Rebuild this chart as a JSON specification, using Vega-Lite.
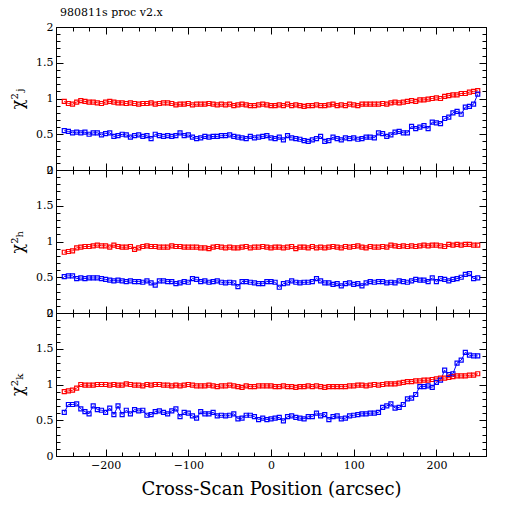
{
  "$schema": "https://vega.github.io/schema/vega-lite/v6.json",
  "background": "white",
  "padding": {"left": 9, "top": 6, "right": 5, "bottom": 5},
  "spacing": 0,
  "bounds": "flush",
  "datasets": {
    "chi": [
      {"x":-250,"J1":0.96,"J2":0.55,"H1":0.85,"H2":0.51,"K1":0.90,"K2":0.61},
      {"x":-245,"J1":0.93,"J2":0.54,"H1":0.86,"H2":0.52,"K1":0.91,"K2":0.72},
      {"x":-240,"J1":0.92,"J2":0.52,"H1":0.87,"H2":0.52,"K1":0.92,"K2":0.72},
      {"x":-235,"J1":0.95,"J2":0.53,"H1":0.91,"H2":0.48,"K1":0.95,"K2":0.73},
      {"x":-230,"J1":0.97,"J2":0.52,"H1":0.92,"H2":0.49,"K1":1.00,"K2":0.66},
      {"x":-225,"J1":0.96,"J2":0.53,"H1":0.93,"H2":0.48,"K1":0.99,"K2":0.62},
      {"x":-220,"J1":0.95,"J2":0.50,"H1":0.93,"H2":0.49,"K1":0.99,"K2":0.59},
      {"x":-215,"J1":0.95,"J2":0.52,"H1":0.94,"H2":0.49,"K1":0.99,"K2":0.70},
      {"x":-210,"J1":0.94,"J2":0.52,"H1":0.95,"H2":0.49,"K1":1.00,"K2":0.65},
      {"x":-205,"J1":0.93,"J2":0.49,"H1":0.94,"H2":0.48,"K1":1.00,"K2":0.64},
      {"x":-200,"J1":0.95,"J2":0.51,"H1":0.94,"H2":0.47,"K1":1.00,"K2":0.61},
      {"x":-195,"J1":0.96,"J2":0.52,"H1":0.92,"H2":0.46,"K1":0.99,"K2":0.67},
      {"x":-190,"J1":0.95,"J2":0.47,"H1":0.95,"H2":0.45,"K1":1.00,"K2":0.58},
      {"x":-185,"J1":0.94,"J2":0.48,"H1":0.93,"H2":0.46,"K1":0.99,"K2":0.70},
      {"x":-180,"J1":0.94,"J2":0.50,"H1":0.92,"H2":0.45,"K1":0.99,"K2":0.58},
      {"x":-175,"J1":0.93,"J2":0.49,"H1":0.92,"H2":0.44,"K1":1.01,"K2":0.64},
      {"x":-170,"J1":0.94,"J2":0.46,"H1":0.93,"H2":0.45,"K1":1.00,"K2":0.59},
      {"x":-165,"J1":0.93,"J2":0.48,"H1":0.89,"H2":0.44,"K1":0.99,"K2":0.65},
      {"x":-160,"J1":0.92,"J2":0.49,"H1":0.91,"H2":0.44,"K1":0.99,"K2":0.63},
      {"x":-155,"J1":0.93,"J2":0.47,"H1":0.93,"H2":0.43,"K1":0.98,"K2":0.64},
      {"x":-150,"J1":0.93,"J2":0.48,"H1":0.94,"H2":0.45,"K1":1.00,"K2":0.57},
      {"x":-145,"J1":0.94,"J2":0.44,"H1":0.93,"H2":0.42,"K1":0.99,"K2":0.58},
      {"x":-140,"J1":0.92,"J2":0.50,"H1":0.93,"H2":0.39,"K1":1.00,"K2":0.62},
      {"x":-135,"J1":0.93,"J2":0.48,"H1":0.92,"H2":0.45,"K1":1.00,"K2":0.63},
      {"x":-130,"J1":0.94,"J2":0.47,"H1":0.92,"H2":0.45,"K1":0.99,"K2":0.61},
      {"x":-125,"J1":0.94,"J2":0.48,"H1":0.92,"H2":0.44,"K1":0.99,"K2":0.59},
      {"x":-120,"J1":0.93,"J2":0.47,"H1":0.94,"H2":0.44,"K1":0.98,"K2":0.63},
      {"x":-115,"J1":0.91,"J2":0.48,"H1":0.93,"H2":0.41,"K1":0.99,"K2":0.66},
      {"x":-110,"J1":0.92,"J2":0.52,"H1":0.93,"H2":0.42,"K1":0.98,"K2":0.55},
      {"x":-105,"J1":0.92,"J2":0.48,"H1":0.92,"H2":0.44,"K1":0.99,"K2":0.61},
      {"x":-100,"J1":0.93,"J2":0.49,"H1":0.92,"H2":0.43,"K1":1.00,"K2":0.60},
      {"x":-95,"J1":0.91,"J2":0.46,"H1":0.92,"H2":0.48,"K1":0.99,"K2":0.56},
      {"x":-90,"J1":0.92,"J2":0.44,"H1":0.92,"H2":0.47,"K1":0.98,"K2":0.53},
      {"x":-85,"J1":0.92,"J2":0.45,"H1":0.91,"H2":0.44,"K1":0.98,"K2":0.62},
      {"x":-80,"J1":0.92,"J2":0.47,"H1":0.91,"H2":0.45,"K1":0.98,"K2":0.59},
      {"x":-75,"J1":0.93,"J2":0.46,"H1":0.90,"H2":0.43,"K1":0.99,"K2":0.59},
      {"x":-70,"J1":0.92,"J2":0.47,"H1":0.92,"H2":0.44,"K1":0.98,"K2":0.61},
      {"x":-65,"J1":0.91,"J2":0.47,"H1":0.93,"H2":0.45,"K1":0.97,"K2":0.56},
      {"x":-60,"J1":0.92,"J2":0.48,"H1":0.92,"H2":0.43,"K1":0.98,"K2":0.57},
      {"x":-55,"J1":0.91,"J2":0.48,"H1":0.91,"H2":0.42,"K1":0.98,"K2":0.56},
      {"x":-50,"J1":0.92,"J2":0.49,"H1":0.92,"H2":0.43,"K1":0.99,"K2":0.57},
      {"x":-45,"J1":0.90,"J2":0.47,"H1":0.91,"H2":0.42,"K1":0.98,"K2":0.59},
      {"x":-40,"J1":0.91,"J2":0.46,"H1":0.91,"H2":0.37,"K1":0.97,"K2":0.52},
      {"x":-35,"J1":0.92,"J2":0.45,"H1":0.92,"H2":0.44,"K1":0.96,"K2":0.53},
      {"x":-30,"J1":0.91,"J2":0.44,"H1":0.93,"H2":0.44,"K1":0.98,"K2":0.57},
      {"x":-25,"J1":0.90,"J2":0.47,"H1":0.91,"H2":0.43,"K1":0.97,"K2":0.57},
      {"x":-20,"J1":0.90,"J2":0.45,"H1":0.92,"H2":0.42,"K1":0.97,"K2":0.55},
      {"x":-15,"J1":0.91,"J2":0.46,"H1":0.92,"H2":0.41,"K1":0.98,"K2":0.51},
      {"x":-10,"J1":0.92,"J2":0.47,"H1":0.93,"H2":0.41,"K1":0.98,"K2":0.53},
      {"x":-5,"J1":0.91,"J2":0.48,"H1":0.92,"H2":0.44,"K1":0.98,"K2":0.51},
      {"x":0,"J1":0.90,"J2":0.45,"H1":0.91,"H2":0.44,"K1":0.98,"K2":0.52},
      {"x":5,"J1":0.90,"J2":0.44,"H1":0.92,"H2":0.43,"K1":0.97,"K2":0.53},
      {"x":10,"J1":0.91,"J2":0.46,"H1":0.92,"H2":0.36,"K1":0.97,"K2":0.54},
      {"x":15,"J1":0.90,"J2":0.42,"H1":0.91,"H2":0.41,"K1":0.98,"K2":0.49},
      {"x":20,"J1":0.92,"J2":0.48,"H1":0.92,"H2":0.42,"K1":0.97,"K2":0.55},
      {"x":25,"J1":0.90,"J2":0.45,"H1":0.93,"H2":0.45,"K1":0.97,"K2":0.56},
      {"x":30,"J1":0.91,"J2":0.44,"H1":0.90,"H2":0.43,"K1":0.96,"K2":0.54},
      {"x":35,"J1":0.90,"J2":0.43,"H1":0.92,"H2":0.42,"K1":0.97,"K2":0.53},
      {"x":40,"J1":0.89,"J2":0.41,"H1":0.92,"H2":0.43,"K1":0.97,"K2":0.52},
      {"x":45,"J1":0.90,"J2":0.40,"H1":0.91,"H2":0.43,"K1":0.98,"K2":0.55},
      {"x":50,"J1":0.90,"J2":0.42,"H1":0.93,"H2":0.44,"K1":0.97,"K2":0.55},
      {"x":55,"J1":0.91,"J2":0.44,"H1":0.91,"H2":0.48,"K1":0.98,"K2":0.60},
      {"x":60,"J1":0.90,"J2":0.47,"H1":0.92,"H2":0.45,"K1":0.97,"K2":0.56},
      {"x":65,"J1":0.90,"J2":0.40,"H1":0.91,"H2":0.42,"K1":0.96,"K2":0.58},
      {"x":70,"J1":0.91,"J2":0.41,"H1":0.92,"H2":0.42,"K1":0.97,"K2":0.51},
      {"x":75,"J1":0.92,"J2":0.46,"H1":0.93,"H2":0.40,"K1":0.97,"K2":0.55},
      {"x":80,"J1":0.90,"J2":0.44,"H1":0.92,"H2":0.41,"K1":0.97,"K2":0.56},
      {"x":85,"J1":0.91,"J2":0.42,"H1":0.91,"H2":0.38,"K1":0.97,"K2":0.52},
      {"x":90,"J1":0.90,"J2":0.45,"H1":0.93,"H2":0.41,"K1":0.97,"K2":0.53},
      {"x":95,"J1":0.92,"J2":0.44,"H1":0.92,"H2":0.42,"K1":0.98,"K2":0.56},
      {"x":100,"J1":0.91,"J2":0.45,"H1":0.93,"H2":0.40,"K1":0.98,"K2":0.57},
      {"x":105,"J1":0.90,"J2":0.43,"H1":0.94,"H2":0.41,"K1":0.99,"K2":0.58},
      {"x":110,"J1":0.92,"J2":0.44,"H1":0.92,"H2":0.38,"K1":0.99,"K2":0.59},
      {"x":115,"J1":0.92,"J2":0.46,"H1":0.91,"H2":0.42,"K1":0.98,"K2":0.59},
      {"x":120,"J1":0.92,"J2":0.46,"H1":0.93,"H2":0.44,"K1":0.99,"K2":0.60},
      {"x":125,"J1":0.92,"J2":0.45,"H1":0.92,"H2":0.43,"K1":1.00,"K2":0.60},
      {"x":130,"J1":0.92,"J2":0.52,"H1":0.92,"H2":0.44,"K1":0.99,"K2":0.61},
      {"x":135,"J1":0.93,"J2":0.51,"H1":0.93,"H2":0.44,"K1":1.00,"K2":0.68},
      {"x":140,"J1":0.92,"J2":0.47,"H1":0.92,"H2":0.42,"K1":1.01,"K2":0.70},
      {"x":145,"J1":0.94,"J2":0.49,"H1":0.95,"H2":0.43,"K1":1.01,"K2":0.73},
      {"x":150,"J1":0.95,"J2":0.53,"H1":0.94,"H2":0.42,"K1":1.01,"K2":0.67},
      {"x":155,"J1":0.94,"J2":0.54,"H1":0.93,"H2":0.45,"K1":1.02,"K2":0.68},
      {"x":160,"J1":0.95,"J2":0.52,"H1":0.94,"H2":0.44,"K1":1.03,"K2":0.72},
      {"x":165,"J1":0.96,"J2":0.52,"H1":0.93,"H2":0.43,"K1":1.04,"K2":0.80},
      {"x":170,"J1":0.97,"J2":0.61,"H1":0.94,"H2":0.45,"K1":1.04,"K2":0.81},
      {"x":175,"J1":0.96,"J2":0.58,"H1":0.93,"H2":0.47,"K1":1.05,"K2":0.86},
      {"x":180,"J1":0.98,"J2":0.60,"H1":0.94,"H2":0.46,"K1":1.05,"K2":0.97},
      {"x":185,"J1":0.98,"J2":0.62,"H1":0.95,"H2":0.46,"K1":1.06,"K2":0.97},
      {"x":190,"J1":0.99,"J2":0.58,"H1":0.94,"H2":0.44,"K1":1.06,"K2":0.98},
      {"x":195,"J1":1.00,"J2":0.67,"H1":0.95,"H2":0.49,"K1":1.07,"K2":0.96},
      {"x":200,"J1":1.01,"J2":0.66,"H1":0.95,"H2":0.44,"K1":1.08,"K2":1.03},
      {"x":205,"J1":1.00,"J2":0.65,"H1":0.94,"H2":0.48,"K1":1.09,"K2":1.06},
      {"x":210,"J1":1.03,"J2":0.72,"H1":0.93,"H2":0.47,"K1":1.09,"K2":1.20},
      {"x":215,"J1":1.04,"J2":0.74,"H1":0.96,"H2":0.45,"K1":1.10,"K2":1.14},
      {"x":220,"J1":1.05,"J2":0.80,"H1":0.95,"H2":0.47,"K1":1.11,"K2":1.15},
      {"x":225,"J1":1.05,"J2":0.82,"H1":0.96,"H2":0.48,"K1":1.12,"K2":1.30},
      {"x":230,"J1":1.07,"J2":0.78,"H1":0.95,"H2":0.50,"K1":1.12,"K2":1.34},
      {"x":235,"J1":1.07,"J2":0.88,"H1":0.96,"H2":0.54,"K1":1.12,"K2":1.45},
      {"x":240,"J1":1.09,"J2":0.89,"H1":0.96,"H2":0.55,"K1":1.13,"K2":1.41},
      {"x":245,"J1":1.10,"J2":0.92,"H1":0.95,"H2":0.48,"K1":1.13,"K2":1.40},
      {"x":250,"J1":1.11,"J2":1.06,"H1":0.95,"H2":0.49,"K1":1.15,"K2":1.40}
    ]
  },
  "data": {"name": "chi"},
  "vconcat": [
    {
      "width": 430,
      "height": 143,
      "title": {"text": "980811s proc v2.x", "anchor": "start", "frame": "group", "dx": 4, "offset": 3, "fontSize": 11, "fontWeight": "normal", "font": "DejaVu Serif"},
      "transform": [{"fold": ["J1", "J2"], "as": ["series", "chi2"]}],
      "encoding": {
        "x": {"field": "x", "type": "quantitative", "scale": {"domain": [-260, 260], "nice": false, "zero": false},
          "axis": {"orient": "bottom", "values": [-240,-220,-200,-180,-160,-140,-120,-100,-80,-60,-40,-20,0,20,40,60,80,100,120,140,160,180,200,220,240],
            "tickSize": {"condition": {"test": "datum.value % 100 === 0", "value": -7}, "value": -4}, "labels": false, "title": null}},
        "y": {"field": "chi2", "type": "quantitative", "scale": {"domain": [0, 2], "nice": false},
          "axis": {"orient": "left", "values": [0,0.1,0.2,0.3,0.4,0.5,0.6,0.7,0.8,0.9,1,1.1,1.2,1.3,1.4,1.5,1.6,1.7,1.8,1.9,2],
            "tickSize": {"condition": {"test": "abs(datum.value * 2 - round(datum.value * 2)) < 0.001", "value": -7}, "value": -4},
            "labelExpr": "abs(datum.value * 2 - round(datum.value * 2)) < 0.001 ? format(datum.value, '~g') : ''", "title": "χ²ⱼ"}},
        "color": {"field": "series", "type": "nominal", "scale": {"domain": ["J1", "J2"], "range": ["#ff0000", "#0000ff"]}, "legend": null}
      },
      "layer": [
        {"mark": {"type": "line", "strokeWidth": 1}, "encoding": {}},
        {"mark": {"type": "point", "shape": "square", "size": 16, "filled": false, "strokeWidth": 1.2, "opacity": 1},
          "encoding": {
            "x": {"field": "x", "type": "quantitative", "scale": {"domain": [-260, 260], "nice": false, "zero": false},
              "axis": {"orient": "top", "values": [-240,-220,-200,-180,-160,-140,-120,-100,-80,-60,-40,-20,0,20,40,60,80,100,120,140,160,180,200,220,240],
                "tickSize": {"condition": {"test": "datum.value % 100 === 0", "value": -7}, "value": -4}, "labels": false, "title": null}},
            "y": {"field": "chi2", "type": "quantitative", "scale": {"domain": [0, 2], "nice": false},
              "axis": {"orient": "right", "values": [0,0.1,0.2,0.3,0.4,0.5,0.6,0.7,0.8,0.9,1,1.1,1.2,1.3,1.4,1.5,1.6,1.7,1.8,1.9,2],
                "tickSize": {"condition": {"test": "abs(datum.value * 2 - round(datum.value * 2)) < 0.001", "value": -7}, "value": -4}, "labels": false, "title": null}}
          }}
      ],
      "resolve": {"axis": {"x": "independent", "y": "independent"}}
    },
    {
      "width": 430,
      "height": 143,
      "transform": [{"fold": ["H1", "H2"], "as": ["series", "chi2"]}],
      "encoding": {
        "x": {"field": "x", "type": "quantitative", "scale": {"domain": [-260, 260], "nice": false, "zero": false},
          "axis": {"orient": "bottom", "values": [-240,-220,-200,-180,-160,-140,-120,-100,-80,-60,-40,-20,0,20,40,60,80,100,120,140,160,180,200,220,240],
            "tickSize": {"condition": {"test": "datum.value % 100 === 0", "value": -7}, "value": -4}, "labels": false, "title": null}},
        "y": {"field": "chi2", "type": "quantitative", "scale": {"domain": [0, 2], "nice": false},
          "axis": {"orient": "left", "values": [0,0.1,0.2,0.3,0.4,0.5,0.6,0.7,0.8,0.9,1,1.1,1.2,1.3,1.4,1.5,1.6,1.7,1.8,1.9,2],
            "tickSize": {"condition": {"test": "abs(datum.value * 2 - round(datum.value * 2)) < 0.001", "value": -7}, "value": -4},
            "labelExpr": "abs(datum.value * 2 - round(datum.value * 2)) < 0.001 ? format(datum.value, '~g') : ''", "title": "χ²ₕ"}},
        "color": {"field": "series", "type": "nominal", "scale": {"domain": ["H1", "H2"], "range": ["#ff0000", "#0000ff"]}, "legend": null}
      },
      "layer": [
        {"mark": {"type": "line", "strokeWidth": 1}, "encoding": {}},
        {"mark": {"type": "point", "shape": "square", "size": 16, "filled": false, "strokeWidth": 1.2, "opacity": 1},
          "encoding": {
            "x": {"field": "x", "type": "quantitative", "scale": {"domain": [-260, 260], "nice": false, "zero": false},
              "axis": {"orient": "top", "values": [-240,-220,-200,-180,-160,-140,-120,-100,-80,-60,-40,-20,0,20,40,60,80,100,120,140,160,180,200,220,240],
                "tickSize": {"condition": {"test": "datum.value % 100 === 0", "value": -7}, "value": -4}, "labels": false, "title": null}},
            "y": {"field": "chi2", "type": "quantitative", "scale": {"domain": [0, 2], "nice": false},
              "axis": {"orient": "right", "values": [0,0.1,0.2,0.3,0.4,0.5,0.6,0.7,0.8,0.9,1,1.1,1.2,1.3,1.4,1.5,1.6,1.7,1.8,1.9,2],
                "tickSize": {"condition": {"test": "abs(datum.value * 2 - round(datum.value * 2)) < 0.001", "value": -7}, "value": -4}, "labels": false, "title": null}}
          }}
      ],
      "resolve": {"axis": {"x": "independent", "y": "independent"}}
    },
    {
      "width": 430,
      "height": 143,
      "transform": [{"fold": ["K1", "K2"], "as": ["series", "chi2"]}],
      "encoding": {
        "x": {"field": "x", "type": "quantitative", "scale": {"domain": [-260, 260], "nice": false, "zero": false},
          "axis": {"orient": "bottom", "values": [-240,-220,-200,-180,-160,-140,-120,-100,-80,-60,-40,-20,0,20,40,60,80,100,120,140,160,180,200,220,240],
            "tickSize": {"condition": {"test": "datum.value % 100 === 0", "value": -7}, "value": -4},
            "labelExpr": "datum.value % 100 === 0 ? datum.label : ''", "title": "Cross-Scan Position (arcsec)"}},
        "y": {"field": "chi2", "type": "quantitative", "scale": {"domain": [0, 2], "nice": false},
          "axis": {"orient": "left", "values": [0,0.1,0.2,0.3,0.4,0.5,0.6,0.7,0.8,0.9,1,1.1,1.2,1.3,1.4,1.5,1.6,1.7,1.8,1.9,2],
            "tickSize": {"condition": {"test": "abs(datum.value * 2 - round(datum.value * 2)) < 0.001", "value": -7}, "value": -4},
            "labelExpr": "abs(datum.value * 2 - round(datum.value * 2)) < 0.001 ? format(datum.value, '~g') : ''", "title": "χ²ₖ"}},
        "color": {"field": "series", "type": "nominal", "scale": {"domain": ["K1", "K2"], "range": ["#ff0000", "#0000ff"]}, "legend": null}
      },
      "layer": [
        {"mark": {"type": "line", "strokeWidth": 1}, "encoding": {}},
        {"mark": {"type": "point", "shape": "square", "size": 16, "filled": false, "strokeWidth": 1.2, "opacity": 1},
          "encoding": {
            "x": {"field": "x", "type": "quantitative", "scale": {"domain": [-260, 260], "nice": false, "zero": false},
              "axis": {"orient": "top", "values": [-240,-220,-200,-180,-160,-140,-120,-100,-80,-60,-40,-20,0,20,40,60,80,100,120,140,160,180,200,220,240],
                "tickSize": {"condition": {"test": "datum.value % 100 === 0", "value": -7}, "value": -4}, "labels": false, "title": null}},
            "y": {"field": "chi2", "type": "quantitative", "scale": {"domain": [0, 2], "nice": false},
              "axis": {"orient": "right", "values": [0,0.1,0.2,0.3,0.4,0.5,0.6,0.7,0.8,0.9,1,1.1,1.2,1.3,1.4,1.5,1.6,1.7,1.8,1.9,2],
                "tickSize": {"condition": {"test": "abs(datum.value * 2 - round(datum.value * 2)) < 0.001", "value": -7}, "value": -4}, "labels": false, "title": null}}
          }}
      ],
      "resolve": {"axis": {"x": "independent", "y": "independent"}}
    }
  ],
  "config": {
    "view": {"stroke": "black", "strokeWidth": 1},
    "axis": {"grid": false, "domain": true, "domainColor": "black", "domainWidth": 1, "tickColor": "black", "tickWidth": 1,
      "labelColor": "black", "labelFont": "DejaVu Serif", "labelFontSize": 11, "labelPadding": 10,
      "titleColor": "black", "titleFont": "DejaVu Serif", "titleFontWeight": "normal"},
    "axisY": {"titleFontSize": 16, "titlePadding": 10},
    "axisX": {"titleFontSize": 18, "titlePadding": 10}
  }
}
